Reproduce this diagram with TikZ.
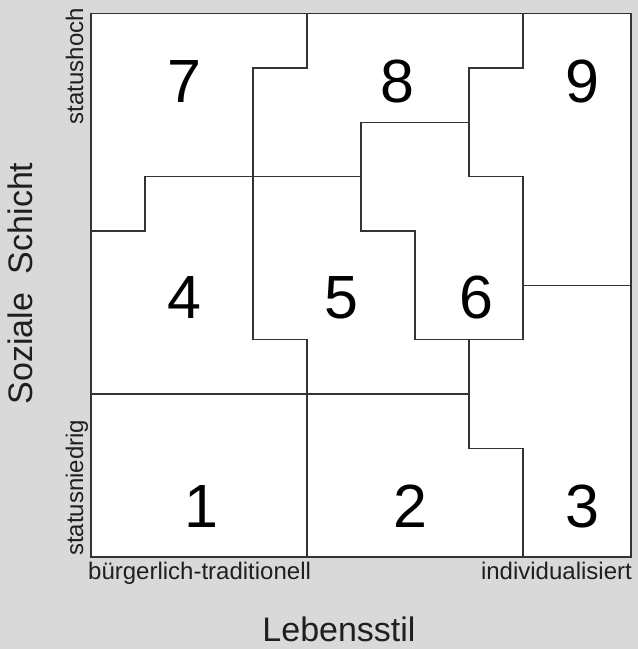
\documentclass[tikz,border=0pt]{standalone}
\usepackage{fontspec}
\setmainfont{Liberation Sans}
\definecolor{bggray}{HTML}{D9D9D9}
\definecolor{linegray}{HTML}{333333}
\tikzset{
  divline/.style={draw=linegray, line width=1.3pt, line join=miter},
  bignum/.style={font=\fontsize{61}{61}\selectfont, inner sep=0pt, anchor=base, text=black},
  axislabel/.style={font=\fontsize{34}{34}\selectfont, inner sep=0pt, text=black!88},
  smalllabel/.style={font=\fontsize{24}{24}\selectfont, inner sep=0pt, text=black!88},
}
\begin{document}
\begin{tikzpicture}[x=1pt,y=-1pt]
\fill[bggray] (0,0) rectangle (638,649);
\useasboundingbox (0,0) rectangle (638,649);
\begin{scope}[xshift=91pt, yshift=-557pt, x=54pt, y=54.35pt]
  \filldraw[fill=white, divline] (0,0) rectangle (10,10);
  \draw[divline] (4,10) -- (4,9) -- (3,9) -- (3,4) -- (4,4) -- (4,0);
  \draw[divline] (0,6) -- (1,6) -- (1,7) -- (5,7);
  \draw[divline] (8,10) -- (8,9) -- (7,9) -- (7,7) -- (8,7) -- (8,4) -- (6,4) -- (6,6) -- (5,6) -- (5,8) -- (7,8);
  \draw[divline] (8,5) -- (10,5);
  \draw[divline] (0,3) -- (7,3);
  \draw[divline] (7,4) -- (7,2) -- (8,2) -- (8,0);
\end{scope}
\node[bignum] (n7) at (184,102) {7};
\node[bignum] (n8) at (397,102) {8};
\node[bignum] (n9) at (582.5,102) {9};
\node[bignum] (n4) at (184,318) {4};
\node[bignum] (n5) at (341,318) {5};
\node[bignum] (n6) at (476,318) {6};
\node[bignum] (n1) at (201,527) {1};
\node[bignum] (n2) at (410,527) {2};
\node[bignum] (n3) at (582,527) {3};
\node[axislabel, anchor=base] (xlab) at (339,641) {Lebensstil};
\node[axislabel, anchor=base, rotate=90] (ylab) at (32,283.5) {Soziale\ \ Schicht};
\node[smalllabel, anchor=base west] (xlo) at (88,579) {bürgerlich-traditionell};
\node[smalllabel, anchor=base east] (xhi) at (632,579) {individualisiert};
\node[smalllabel, anchor=base east, rotate=90] (yhi) at (83,8) {statushoch};
\node[smalllabel, anchor=base west, rotate=90] (ylo) at (83,556) {statusniedrig};
\end{tikzpicture}
\end{document}
